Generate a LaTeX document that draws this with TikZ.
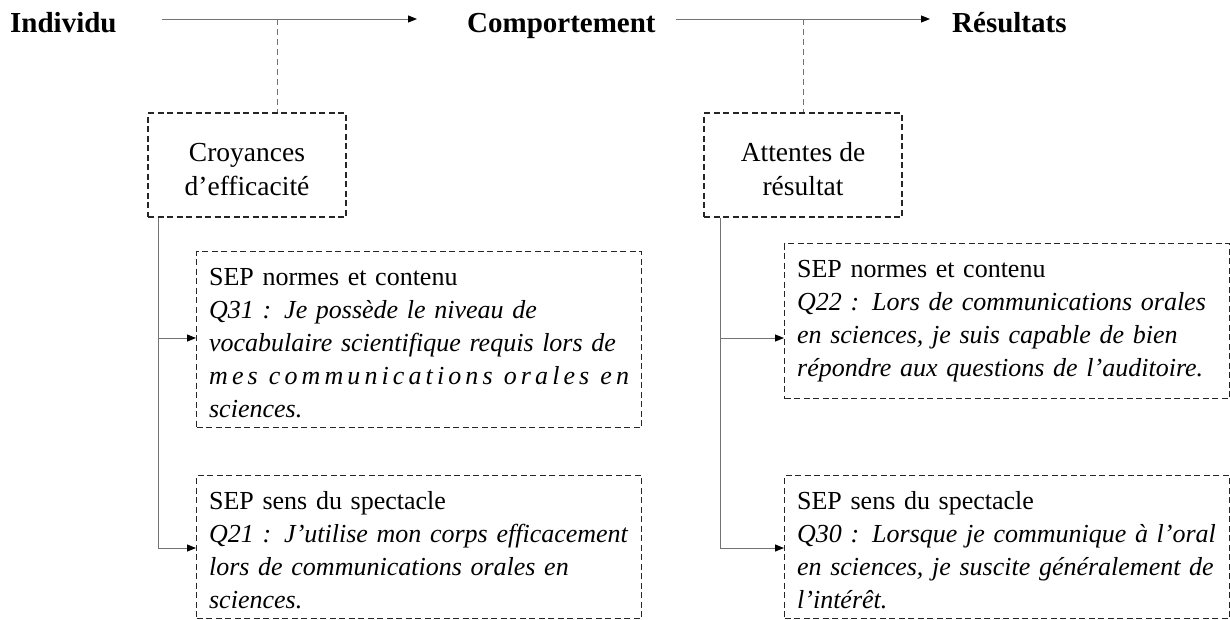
\documentclass[tikz,border=0pt]{standalone}
\usepackage{fontspec}
\setmainfont{Liberation Serif}
\usetikzlibrary{arrows.meta,positioning}

\newlength{\qw}
\setlength{\qw}{420pt}
% one justified line of a question, spread to the full text width
\newcommand{\jl}[1]{\makebox[\qw][s]{#1}}
% glue between spread letters and between spread words
\newcommand{\lgap}{\hspace{0pt plus 1fill}}
\newcommand{\wgap}{\hspace{7pt plus 1fill}}
% struts fixing the first baseline and the depth of the last line
\newcommand{\topstrut}{\rule{0pt}{28pt}}
\newcommand{\qtopstrut}{\rule{0pt}{30pt}}
\newcommand{\botstrut}[1]{\rule[-#1]{0pt}{0pt}}

\tikzset{
  head/.style={font=\bfseries\fontsize{29}{34}\selectfont, inner sep=0pt},
  dimbox/.style={draw=black!85, line width=1.25pt, dash pattern=on 6pt off 3.5pt,
    align=center, font=\fontsize{27.5}{34}\selectfont, inner sep=0pt,
    minimum width=198pt, minimum height=104pt},
  qbox/.style={draw=black!85, line width=1.25pt, dash pattern=on 6pt off 3.5pt,
    anchor=north west, text width=\qw, align=left, inner xsep=12.5pt, inner ysep=4pt,
    font=\fontsize{26}{33}\selectfont},
  flow/.style={draw=black!55, line width=1pt, -{Triangle[length=9pt,width=7pt,color=black]}},
  trunk/.style={draw=black!55, line width=1pt},
  link/.style={draw=black!55, line width=1pt, dash pattern=on 6pt off 4pt},
}

\begin{document}
\begin{tikzpicture}[x=1pt,y=-1pt]
\useasboundingbox (0,0) rectangle (1230,619);

% model headings
\node[head, anchor=base west] (ind)  at (10,32)  {Individu};
\node[head, anchor=base west] (comp) at (467,32) {Comportement};
\node[head, anchor=base west] (res)  at (952,32) {Résultats};

\coordinate (a1s) at (162,19);
\coordinate (a1e) at (417,19);
\coordinate (a2s) at (676,19);
\coordinate (a2e) at (930,19);
\coordinate (m1) at (277,19);
\coordinate (m2) at (803,19);

\draw[flow] (a1s) -- (a1e);
\draw[flow] (a2s) -- (a2e);

% belief boxes
\node[dimbox] (croy) at (247,165) {\topstrut Croyances\\d’efficacité};
\node[dimbox] (att)  at (803,165) {\topstrut Attentes de\\résultat};

\draw[link] (m1) -- (m1 |- croy.north);
\draw[link] (m2) -- (m2 |- att.north);

% self-efficacy items
\node[qbox] (l1) at (196,251) {\qtopstrut SEP normes et contenu\\
  \itshape\jl{Q31 : Je possède le niveau de}\\
  \jl{vocabulaire scientifique requis lors de}\\
  \makebox[\qw]{m\lgap e\lgap s\wgap c\lgap o\lgap m\lgap m\lgap u\lgap n\lgap i\lgap c\lgap a\lgap t\lgap i\lgap o\lgap n\lgap s\wgap o\lgap r\lgap a\lgap l\lgap e\lgap s\wgap e\lgap n}\\
  sciences.\botstrut{6pt}};
\node[qbox] (l2) at (196,475) {\qtopstrut SEP sens du spectacle\\
  \itshape\jl{Q21 : J’utilise mon corps efficacement}\\
  \jl{lors de communications orales en}\\
  sciences.\botstrut{6pt}};
\node[qbox] (r1) at (784,243) {\qtopstrut SEP normes et contenu\\
  \itshape\jl{Q22 : Lors de communications orales}\\
  \jl{en sciences, je suis capable de bien}\\
  répondre aux questions de l’auditoire.\botstrut{18pt}};
\node[qbox] (r2) at (784,475) {\qtopstrut SEP sens du spectacle\\
  \itshape\jl{Q30 : Lorsque je communique à l’oral}\\
  \jl{en sciences, je suscite généralement de}\\
  l’intérêt.\botstrut{6pt}};

% branches
\coordinate (lt) at (158,0);
\coordinate (rt) at (720,0);
\draw[trunk] (lt |- croy.south) -- (lt |- 0,548);
\draw[flow] (lt |- 0,338) -- (l1.west |- 0,338);
\draw[flow] (lt |- 0,548) -- (l2.west |- 0,548);
\draw[trunk] (rt |- att.south) -- (rt |- 0,548);
\draw[flow] (rt |- 0,338) -- (r1.west |- 0,338);
\draw[flow] (rt |- 0,548) -- (r2.west |- 0,548);
\end{tikzpicture}
\end{document}
